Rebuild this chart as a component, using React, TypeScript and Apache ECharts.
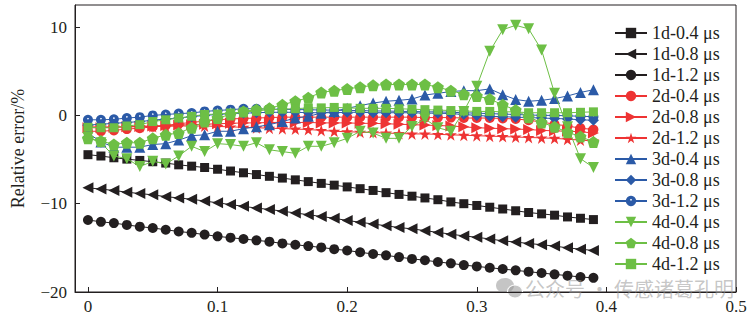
import React, { useEffect, useRef } from "react";
import * as echarts from "echarts";

// Sampling positions along the x axis
const xs = [
  0, 0.01, 0.02, 0.03, 0.04, 0.05, 0.06, 0.07, 0.08, 0.09,
  0.1, 0.11, 0.12, 0.13, 0.14, 0.15, 0.16, 0.17, 0.18, 0.19,
  0.2, 0.21, 0.22, 0.23, 0.24, 0.25, 0.26, 0.27, 0.28, 0.29,
  0.3, 0.31, 0.32, 0.33, 0.34, 0.35, 0.36, 0.37, 0.38, 0.39,
];

const d1_04 = [
  -4.45, -4.6, -4.8, -4.95, -5.1, -5.25, -5.4, -5.6, -5.75, -5.9,
  -6.1, -6.3, -6.5, -6.7, -6.9, -7.1, -7.3, -7.5, -7.7, -7.9,
  -8.1, -8.3, -8.5, -8.75, -8.95, -9.15, -9.35, -9.55, -9.8, -10.0,
  -10.2, -10.4, -10.6, -10.8, -11.0, -11.15, -11.3, -11.5, -11.65, -11.8,
];
const d1_08 = [
  -8.2, -8.35, -8.5, -8.7, -8.85, -9.0, -9.2, -9.35, -9.5, -9.7,
  -9.9, -10.1, -10.3, -10.5, -10.65, -10.85, -11.05, -11.25, -11.45, -11.65,
  -11.9, -12.1, -12.3, -12.5, -12.7, -12.85, -13.05, -13.25, -13.45, -13.65,
  -13.8, -14.0, -14.2, -14.35, -14.5, -14.65, -14.8, -15.0, -15.15, -15.3,
];
const d1_12 = [
  -11.85, -12.05, -12.2, -12.4, -12.6, -12.75, -12.95, -13.15, -13.3, -13.5,
  -13.7, -13.85, -14.0, -14.15, -14.3, -14.5, -14.65, -14.8, -14.95, -15.15,
  -15.3, -15.5, -15.7, -15.85, -16.05, -16.25, -16.4, -16.6, -16.75, -16.95,
  -17.1, -17.25, -17.4, -17.55, -17.7, -17.85, -18.0, -18.15, -18.3, -18.4,
];
const d2_04 = [
  -1.8, -1.8, -1.7, -1.55, -1.45, -1.3, -1.15, -0.95, -0.8, -0.65,
  -0.5, -0.4, -0.35, -0.3, -0.25, -0.2, -0.2, -0.2, -0.2, -0.2,
  -0.2, -0.2, -0.2, -0.2, -0.2, -0.2, -0.25, -0.25, -0.25, -0.3,
  -0.3, -0.3, -0.35, -0.4, -0.55, -0.75, -1.0, -1.2, -1.45, -1.6,
];
const d2_08 = [
  -1.4, -1.4, -1.35, -1.3, -1.25, -1.2, -1.15, -1.1, -1.05, -1.0,
  -0.95, -0.9, -0.85, -0.85, -0.8, -0.8, -0.8, -0.8, -0.85, -0.85,
  -0.85, -0.9, -0.9, -0.95, -1.0, -1.05, -1.1, -1.15, -1.2, -1.3,
  -1.4, -1.45, -1.5, -1.55, -1.6, -1.7, -1.75, -1.8, -1.85, -2.0,
];
const d2_12 = [
  -1.3, -1.3, -1.3, -1.3, -1.25, -1.25, -1.25, -1.2, -1.2, -1.2,
  -1.25, -1.3, -1.35, -1.4, -1.45, -1.5, -1.55, -1.6, -1.7, -1.8,
  -1.85, -1.9, -1.95, -2.0, -2.05, -2.1, -2.1, -2.15, -2.2, -2.25,
  -2.3, -2.35, -2.4, -2.45, -2.5, -2.55, -2.6, -2.7, -2.8, -2.9,
];
const d3_04 = [
  -2.0, -3.0, -3.6, -3.6, -3.6, -3.3, -3.2, -2.8, -2.3, -2.2,
  -1.8, -1.8, -1.5, -1.3, -1.05, -0.7, -0.3, -0.1, 0.25, 0.45,
  0.8, 1.1, 1.4, 1.6, 1.7, 1.85, 2.3, 2.5, 2.7, 2.8,
  2.8, 3.0, 2.35, 1.8, 1.6, 1.7, 1.9, 2.2, 2.6, 2.9,
];
const d3_08 = [
  -1.1, -1.0, -0.9, -0.8, -0.7, -0.55, -0.4, -0.3, -0.15, 0.0,
  0.1, 0.2, 0.25, 0.3, 0.35, 0.35, 0.35, 0.3, 0.3, 0.3,
  0.35, 0.35, 0.3, 0.3, 0.3, 0.3, 0.25, 0.25, 0.2, 0.1,
  0.0, -0.1, -0.15, -0.2, -0.25, -0.3, -0.35, -0.4, -0.5, -0.55,
];
const d3_12 = [
  -0.5, -0.5, -0.45, -0.3, -0.2, 0.0, 0.1, 0.2, 0.27, 0.45,
  0.55, 0.65, 0.75, 0.75, 0.7, 0.7, 0.65, 0.65, 0.6, 0.6,
  0.55, 0.55, 0.5, 0.5, 0.45, 0.45, 0.4, 0.4, 0.35, 0.3,
  0.25, 0.2, 0.15, 0.1, 0.05, 0.0, 0.0, -0.05, -0.1, -0.15,
];
const d4_04 = [
  -2.5, -3.1, -4.6, -4.9, -5.8, -5.2, -5.5, -4.6, -3.5, -4.1,
  -3.2, -3.3, -3.5, -3.1, -3.9, -4.1, -4.3, -3.5, -3.5, -3.1,
  -2.6, -1.8, -2.0, -2.6, -2.6, -1.25, -0.4, -1.4, -1.8, 0.45,
  3.3, 7.25, 9.7, 10.2, 9.8, 7.4, 2.5, -1.3, -4.9, -5.9,
];
const d4_08 = [
  -2.6, -2.9, -3.3, -3.1, -3.1, -2.6, -2.2, -2.0, -1.4, -0.7,
  -0.3, 0.1, 0.45, 0.65, 0.8, 1.2, 1.6, 2.0, 2.6, 2.8,
  3.0, 3.2, 3.4, 3.5, 3.5, 3.5, 3.5, 3.2, 2.8, 2.4,
  2.2, 1.85, 1.2, 0.6, -0.2, -0.8, -1.3, -1.9, -2.4, -3.0,
];
const d4_12 = [
  -1.35, -1.4, -1.4, -1.2, -1.05, -0.7, -0.5, -0.3, -0.1, 0.1,
  0.15, 0.27, 0.38, 0.5, 0.65, 0.7, 0.76, 0.84, 0.85, 0.9,
  0.85, 0.8, 0.8, 0.8, 0.75, 0.7, 0.65, 0.6, 0.55, 0.5,
  0.45, 0.45, 0.4, 0.4, 0.3, 0.3, 0.3, 0.3, 0.35, 0.4,
];

const seriesNames = [
  "1d-0.4 μs", "1d-0.8 μs", "1d-1.2 μs",
  "2d-0.4 μs", "2d-0.8 μs", "2d-1.2 μs",
  "3d-0.4 μs", "3d-0.8 μs", "3d-1.2 μs",
  "4d-0.4 μs", "4d-0.8 μs", "4d-1.2 μs",
];
const seriesValues = [
  d1_04, d1_08, d1_12,
  d2_04, d2_08, d2_12,
  d3_04, d3_08, d3_12,
  d4_04, d4_08, d4_12,
];

const yTicks = [-20, -10, 0, 10];
const xTicks = [0, 0.1, 0.2, 0.3, 0.4, 0.5];

const BLACK = "#231f20";
const RED = "#ee3333";
const BLUE = "#2b5aa7";
const GREEN = "#6dbf45";

// Blue disc with a small pale highlight near its top
const BLUE_DOT_FILL = {
  type: "radial",
  x: 0.5,
  y: 0.38,
  r: 0.6,
  colorStops: [
    { offset: 0, color: "#dbe4f3" },
    { offset: 0.1, color: "#c5d3ec" },
    { offset: 0.2, color: BLUE },
    { offset: 1, color: BLUE },
  ],
};

const STAR =
  "path://M12,0 L14.9,8.6 L24,8.6 L16.6,14 L19.4,22.8 L12,17.4 L4.6,22.8 L7.4,14 L0,8.6 L9.1,8.6 Z";
const PENTAGON = "path://M12,0 L23.4,8.3 L19.1,21.7 L4.9,21.7 L0.6,8.3 Z";

type MarkStyle = {
  color: string;
  fill?: unknown;
  symbol: string;
  size: number;
  rotate?: number;
};
const marks: MarkStyle[] = [
  { color: BLACK, symbol: "rect", size: 9 },
  { color: BLACK, symbol: "triangle", size: 11, rotate: 90 },
  { color: BLACK, symbol: "circle", size: 10 },
  { color: RED, symbol: "circle", size: 10 },
  { color: RED, symbol: "triangle", size: 11, rotate: -90 },
  { color: RED, symbol: STAR, size: 12 },
  { color: BLUE, symbol: "triangle", size: 11 },
  { color: BLUE, symbol: "diamond", size: 11 },
  { color: BLUE, fill: BLUE_DOT_FILL, symbol: "circle", size: 10 },
  { color: GREEN, symbol: "triangle", size: 11, rotate: 180 },
  { color: GREEN, symbol: PENTAGON, size: 12 },
  { color: GREEN, symbol: "rect", size: 9 },
];

const SERIF = "Liberation Serif";

export default function App() {
  const ref = useRef<HTMLDivElement>(null);

  useEffect(() => {
    if (!ref.current) return;
    const chart = echarts.init(ref.current, undefined, { renderer: "svg" });

    const series = seriesNames.map((name, i) => ({
      name,
      type: "line",
      data: xs.map((x, j) => [x, seriesValues[i][j]]),
      symbol: marks[i].symbol,
      symbolSize: marks[i].size,
      symbolRotate: marks[i].rotate ?? 0,
      showAllSymbol: true,
      lineStyle: { color: marks[i].color, width: 1 },
      itemStyle: { color: marks[i].fill ?? marks[i].color },
      emphasis: { disabled: true },
      z: 2 + i,
    }));

    const isTick = (v: number, list: number[]) =>
      list.some((t) => Math.abs(t - v) < 1e-6);

    chart.setOption({
      animation: false,
      backgroundColor: "#ffffff",
      textStyle: { fontFamily: SERIF },
      grid: {
        left: 75,
        right: 17,
        top: 5,
        bottom: 28,
        show: true,
        borderColor: BLACK,
        borderWidth: 1,
        containLabel: false,
      },
      legend: {
        orient: "vertical",
        left: 609,
        top: 19,
        itemWidth: 32,
        itemHeight: 13,
        itemGap: 3,
        textStyle: {
          fontFamily: SERIF,
          fontSize: 18,
          color: BLACK,
          lineHeight: 18,
        },
        data: seriesNames,
      },
      xAxis: {
        type: "value",
        min: -0.01,
        max: 0.5,
        splitNumber: 5,
        minInterval: 0.1,
        maxInterval: 0.1,
        axisLine: { show: true, onZero: false, lineStyle: { color: BLACK, width: 1 } },
        axisTick: {
          show: true,
          inside: true,
          length: 5,
          lineStyle: { color: BLACK },
        },
        axisLabel: {
          fontFamily: SERIF,
          fontSize: 17,
          color: BLACK,
          margin: 6,
          formatter: (v: number) =>
            isTick(v, xTicks) ? String(Number(v.toFixed(2))) : "",
        },
        splitLine: { show: false },
      },
      yAxis: {
        type: "value",
        min: -20,
        max: 12.5,
        interval: 10,
        name: "Relative error/%",
        nameLocation: "middle",
        nameGap: 48,
        nameTextStyle: { fontFamily: SERIF, fontSize: 18, color: BLACK },
        axisLine: { show: true, onZero: false, lineStyle: { color: BLACK, width: 1 } },
        axisTick: {
          show: true,
          inside: true,
          length: 5,
          lineStyle: { color: BLACK },
        },
        axisLabel: {
          fontFamily: SERIF,
          fontSize: 17,
          color: BLACK,
          margin: 8,
          showMaxLabel: false,
          formatter: (v: number) =>
            isTick(v, yTicks) ? String(v).replace("-", "−") : "",
        },
        splitLine: { show: false },
      },
      graphic: [
        {
          type: "group",
          left: 496,
          top: 278,
          silent: true,
          z: 100,
          children: [
            {
              type: "ellipse",
              shape: { cx: 9, cy: 8, rx: 9, ry: 7.5 },
              style: { fill: "rgba(150,150,150,0.55)" },
            },
            {
              type: "ellipse",
              shape: { cx: 19, cy: 14, rx: 7.5, ry: 6.5 },
              style: {
                fill: "rgba(150,150,150,0.55)",
                stroke: "rgba(255,255,255,0.9)",
                lineWidth: 1.2,
              },
            },
          ],
        },
        {
          type: "text",
          left: 525,
          top: 278,
          silent: true,
          z: 100,
          style: {
            text: "公众号 · 传感诸葛孔明",
            font: "20px 'Noto Sans CJK SC', sans-serif",
            fill: "rgba(150,150,150,0.55)",
          },
        },
      ],
      series,
    });

    return () => chart.dispose();
  }, []);

  return (
    <div
      ref={ref}
      style={{ position: "absolute", left: 0, top: 0, width: 753, height: 320 }}
    />
  );
}
